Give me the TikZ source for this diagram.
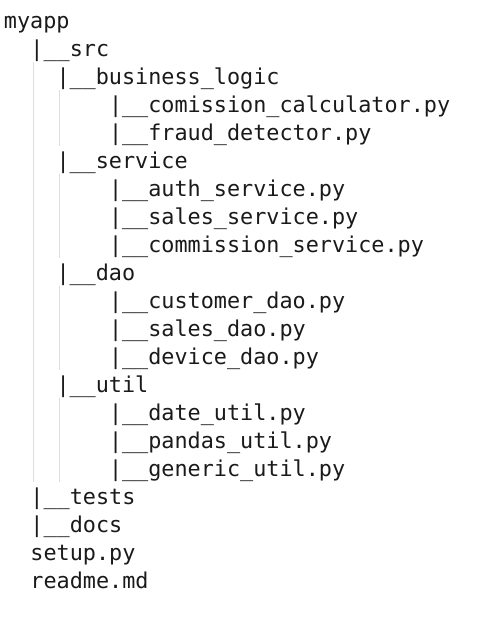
\documentclass[tikz,border=0pt]{standalone}
\usepackage{fontspec}
\setmonofont{DejaVu Sans Mono}
\definecolor{guide}{HTML}{DDDDDD}
\definecolor{ink}{HTML}{1A1A1A}
\tikzset{
  line/.style={anchor=base west, inner sep=0pt, outer sep=0pt, text=ink,
    font=\ttfamily\fontsize{21.8}{26}\selectfont},
  guideline/.style={draw=guide, line width=1pt}
}
\begin{document}
\begin{tikzpicture}[x=1pt,y=-1pt]
\useasboundingbox[fill=white] (0,0) rectangle (492,621);
% row i baseline = 28 + 28 i ; indent k chars -> x = 4 + 13.1 k
\node[line] (r0)  at (4,28)  {myapp};
\node[line] (r1)  at (30.5,56) {|\_\_src};
\node[line] (r2)  at (56.5,84) {|\_\_business\_logic};
\node[line] (r3)  at (109,112) {|\_\_comission\_calculator.py};
\node[line] (r4)  at (109,140) {|\_\_fraud\_detector.py};
\node[line] (r5)  at (56.5,168) {|\_\_service};
\node[line] (r6)  at (109,196) {|\_\_auth\_service.py};
\node[line] (r7)  at (109,224) {|\_\_sales\_service.py};
\node[line] (r8)  at (109,252) {|\_\_commission\_service.py};
\node[line] (r9)  at (56.5,280) {|\_\_dao};
\node[line] (r10) at (109,308) {|\_\_customer\_dao.py};
\node[line] (r11) at (109,336) {|\_\_sales\_dao.py};
\node[line] (r12) at (109,364) {|\_\_device\_dao.py};
\node[line] (r13) at (56.5,392) {|\_\_util};
\node[line] (r14) at (109,420) {|\_\_date\_util.py};
\node[line] (r15) at (109,448) {|\_\_pandas\_util.py};
\node[line] (r16) at (109,476) {|\_\_generic\_util.py};
\node[line] (r17) at (30.5,504) {|\_\_tests};
\node[line] (r18) at (30.5,532) {|\_\_docs};
\node[line] (r19) at (30.5,560) {setup.py};
\node[line] (r20) at (30.5,588) {readme.md};
% indent guides
\coordinate (g1a) at (33.3,62);  \coordinate (g1b) at (33.3,482);
\coordinate (g2a) at (59.5,90);  \coordinate (g2b) at (59.5,146);
\coordinate (g3a) at (59.5,174); \coordinate (g3b) at (59.5,258);
\coordinate (g4a) at (59.5,286); \coordinate (g4b) at (59.5,370);
\coordinate (g5a) at (59.5,398); \coordinate (g5b) at (59.5,482);
\draw[guideline] (g1a) -- (g1b);
\draw[guideline] (g2a) -- (g2b);
\draw[guideline] (g3a) -- (g3b);
\draw[guideline] (g4a) -- (g4b);
\draw[guideline] (g5a) -- (g5b);
\end{tikzpicture}
\end{document}
